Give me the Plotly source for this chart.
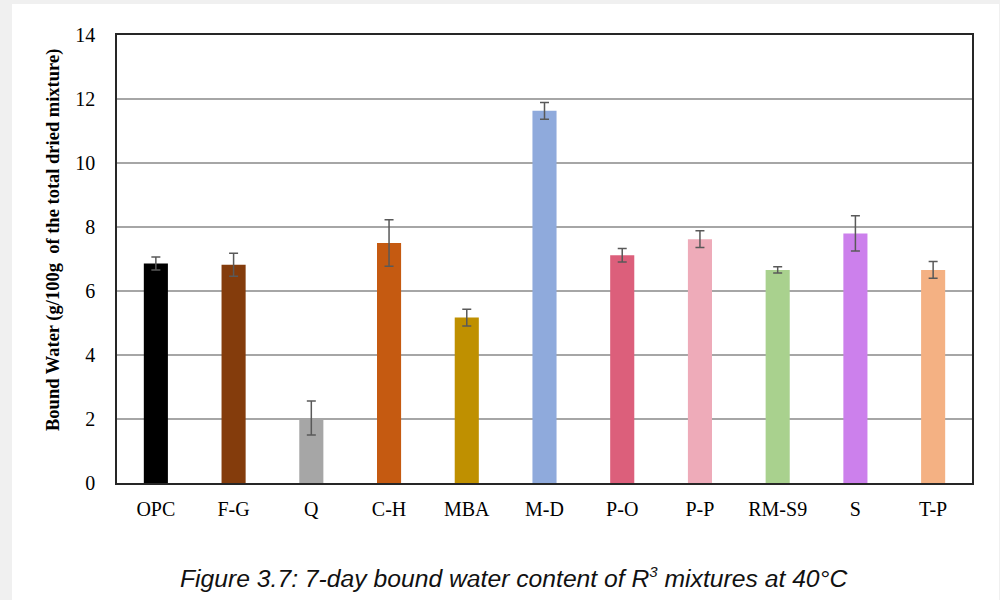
import plotly.graph_objects as go

categories = ["OPC", "F-G", "Q", "C-H", "MBA", "M-D", "P-O", "P-P", "RM-S9", "S", "T-P"]
values = [6.86, 6.82, 2.03, 7.50, 5.17, 11.63, 7.12, 7.62, 6.66, 7.80, 6.66]
errors = [0.20, 0.36, 0.53, 0.73, 0.26, 0.26, 0.21, 0.26, 0.10, 0.55, 0.26]
colors = ["#000000", "#843c0c", "#a6a6a6", "#c55a11", "#bf9000", "#8faadc",
          "#dc5f7b", "#eeabb9", "#a9d18e", "#cc80ec", "#f4b183"]
y_ticks = [0, 2, 4, 6, 8, 10, 12, 14]

fig = go.Figure()
fig.add_trace(go.Bar(
    x=categories, y=values,
    marker=dict(color=colors, line=dict(width=0)),
    error_y=dict(type="data", array=errors, visible=True,
                 color="#595959", thickness=1.5, width=4.5),
    showlegend=False,
))

L, R, T, B = 117, 28, 35, 117
W, H = 1000 - L - R, 600 - T - B
Y0 = 600 - B  # pixel y of plot bottom


def px_x(x):
    return (x - L) / W


def px_y(y):
    return (Y0 - y) / H


fig.update_layout(
    width=1000, height=600,
    margin=dict(l=L, r=R, t=T, b=B, pad=0),
    paper_bgcolor="#f0f0f0",
    plot_bgcolor="#ffffff",
    bargap=0.69,
    font=dict(family="Liberation Serif", color="#000000"),
    shapes=[dict(type="rect", xref="paper", yref="paper", layer="below",
                 x0=px_x(12), x1=px_x(999), y0=px_y(605), y1=px_y(4),
                 fillcolor="#ffffff", line=dict(width=0))],
    annotations=[
        dict(text="<i>Figure 3.7: 7-day bound water content of R<sup><span style='font-size:15px'>3</span></sup> mixtures at 40°C</i>",
             xref="paper", yref="paper", x=px_x(513), y=px_y(577),
             xanchor="center", yanchor="middle", showarrow=False,
             font=dict(family="Liberation Sans", size=24.7, color="#111111")),
        dict(text="<b>Bound Water (g/100g \u00a0of the total dried mixture)</b>",
             xref="paper", yref="paper", x=px_x(53), y=px_y(240),
             xanchor="center", yanchor="middle", showarrow=False, textangle=-90,
             font=dict(family="Liberation Serif", size=18.5, color="#000000")),
    ],
)

fig.update_xaxes(
    showline=True, linecolor="#262626", linewidth=1.5, mirror=True,
    showgrid=False, ticks="", tickfont=dict(size=20, family="Liberation Serif"),
    ticklabelstandoff=7,
)
fig.update_yaxes(
    range=[0, 14], tickvals=y_ticks, ticks="",
    showline=True, linecolor="#262626", linewidth=1.5, mirror=True,
    showgrid=True, gridcolor="#a6a6a6", gridwidth=1.5, zeroline=False,
    tickfont=dict(size=20, family="Liberation Serif"),
    ticklabelstandoff=16,
)

fig.write_html("out.html", config={"displayModeBar": False},
               post_script="document.body.style.margin='0';document.body.style.overflow='hidden';")
